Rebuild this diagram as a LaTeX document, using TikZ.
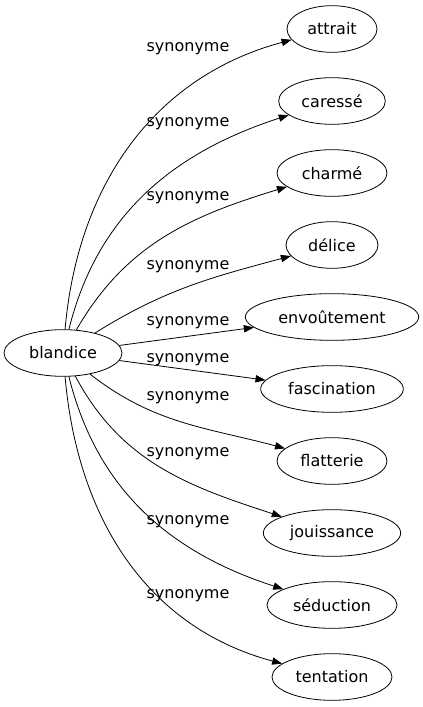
\documentclass[tikz,border=0pt]{standalone}
\usepackage{fontspec}
\setmainfont{DejaVu Sans}
\usetikzlibrary{shapes.geometric,arrows.meta}
\begin{document}
\begin{tikzpicture}[x=0.75pt,y=0.75pt,
    every node/.style={font=\fontsize{12}{14}\selectfont},
    word/.style={draw,ellipse,line width=0.6pt,inner sep=0pt,minimum height=35pt},
    rel/.style={inner sep=0pt},
    syn/.style={-{Triangle[length=7.5pt,width=5.5pt]},line width=0.6pt}]
      \useasboundingbox (0,0) rectangle (423,707);
      \draw
        (63,354) node[word,minimum width=88.5pt] (blandice){blandice}
        (332,678) node[word,minimum width=67.5pt] (attrait){attrait}
        (332,606) node[word,minimum width=80pt] (caresse){caressé}
        (332,534) node[word,minimum width=82.5pt] (charme){charmé}
        (332,462) node[word,minimum width=69pt] (delice){délice}
        (332,390) node[word,minimum width=130pt] (envoutement){envoûtement}
        (332,318) node[word,minimum width=107pt] (fascination){fascination}
        (332,246) node[word,minimum width=82.5pt] (flatterie){flatterie}
        (332,174) node[word,minimum width=103pt] (jouissance){jouissance}
        (332,102) node[word,minimum width=97.5pt] (seduction){séduction}
        (332,30) node[word,minimum width=90pt] (tentation){tentation};
      \draw
        (188,658) node[rel] (l1){synonyme}
        (188,583) node[rel] (l2){synonyme}
        (188,509) node[rel] (l3){synonyme}
        (188,440) node[rel] (l4){synonyme}
        (188,384) node[rel] (l5){synonyme}
        (188,347) node[rel] (l6){synonyme}
        (188,309) node[rel] (l7){synonyme}
        (188,253) node[rel] (l8){synonyme}
        (188,185) node[rel] (l9){synonyme}
        (188,111) node[rel] (l10){synonyme};
      \begin{scope}[syn]
        \draw (blandice) to[out=85,in=195] (attrait);
        \draw (blandice) to[out=76,in=198] (caresse);
        \draw (blandice) to[out=60,in=197] (charme);
        \draw (blandice) to[out=32,in=195] (delice);
        \draw (blandice) to (envoutement);
        \draw (blandice) to (fascination);
        \draw (blandice) to[out=-38,in=165] (flatterie);
        \draw (blandice) to[out=-62,in=162] (jouissance);
        \draw (blandice) to[out=-76,in=162] (seduction);
        \draw (blandice) to[out=-85,in=165] (tentation);
      \end{scope}
    \end{tikzpicture}
\end{document}
